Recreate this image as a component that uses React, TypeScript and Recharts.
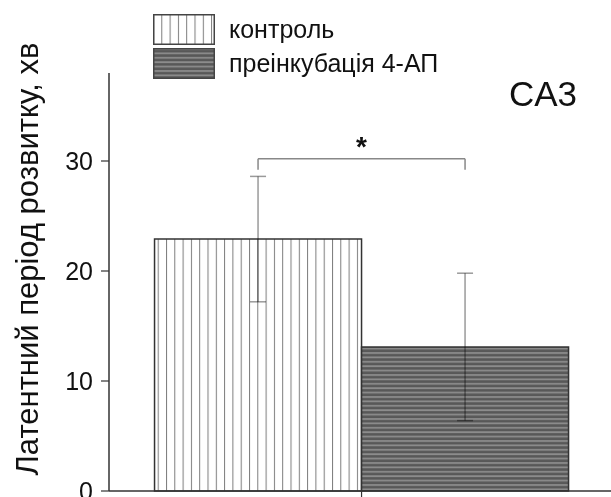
import { BarChart, Bar, Cell, XAxis, YAxis, ErrorBar, ReferenceLine, ReferenceDot } from "recharts";

const FONT = "Arial, 'Liberation Sans', sans-serif";

// groups and their position on the x axis
const categories = ["контроль", "преінкубація 4-АП"];
const positions = [1, 2];
// mean latency, min, and its error
const means = [22.9, 13.1];
const errors = [5.7, 6.7];
const yTicks = [0, 10, 20, 30];
const xTicks = [1.5];
// significance bracket between the two groups
const bracketTop = 30.2;
const bracketFoot = 29.2;
const starY = 31.4;

const fills = ["url(#vlines)", "url(#hlines)"];

const data = categories.map((name, i) => ({
  name,
  x: positions[i],
  value: means[i],
  err: errors[i],
}));

const Swatch = ({ fill }: { fill: string }) => (
  <svg width={62} height={31} style={{ display: "block" }}>
    <rect x={0.75} y={0.75} width={60.5} height={29.5} fill={fill} stroke="#444" strokeWidth={1.5} />
  </svg>
);

const App = () => {
  return (
    <div
      style={{
        position: "fixed",
        left: 0,
        top: 0,
        width: 611,
        height: 497,
        overflow: "hidden",
        background: "#fff",
        fontFamily: FONT,
      }}
    >
      {/* error bars darken over the hatched dark bar, stay light over white */}
      <style>{".recharts-errorBar line { mix-blend-mode: multiply; }"}</style>
      <BarChart width={611} height={497} data={data} margin={{ top: 73, right: 0, bottom: 0, left: 0 }}>
        <defs>
          <pattern id="vlines" patternUnits="userSpaceOnUse" width={8.3} height={10}>
            <rect x={0} y={0} width={8.3} height={10} fill="#fff" />
            <line x1={0.5} y1={0} x2={0.5} y2={10} stroke="#7c7c7c" strokeWidth={1} />
          </pattern>
          <pattern id="hlines" patternUnits="userSpaceOnUse" width={10} height={4.4}>
            <rect x={0} y={0} width={10} height={4.4} fill="#585858" />
            <line x1={0} y1={1} x2={10} y2={1} stroke="#8c8c8c" strokeWidth={1.8} />
          </pattern>
        </defs>
        <XAxis
          dataKey="x"
          type="number"
          domain={[0.28, 2.705]}
          allowDataOverflow
          ticks={xTicks}
          interval={0}
          tickFormatter={() => ""}
          tickSize={7}
          height={6}
          axisLine={{ stroke: "#333", strokeWidth: 1.5 }}
          tickLine={{ stroke: "#333", strokeWidth: 1.2 }}
        />
        <YAxis
          domain={[0, 38]}
          ticks={yTicks}
          interval={0}
          width={109}
          tickSize={8}
          tickMargin={8}
          axisLine={{ stroke: "#333", strokeWidth: 1.5 }}
          tickLine={{ stroke: "#333", strokeWidth: 1.2 }}
          tick={{ fill: "#111", fontSize: 25, fontFamily: FONT }}
          label={{
            content: () => (
              <text
                x={27}
                y={259}
                transform="rotate(-90, 27, 259)"
                textAnchor="middle"
                dominantBaseline="central"
                fontSize={31}
                fontFamily={FONT}
                fill="#111"
              >
                Латентний період розвитку, хв
              </text>
            ),
          }}
        />
        <Bar dataKey="value" barSize={207} stroke="#333" strokeWidth={1.5} isAnimationActive={false}>
          {data.map((d, i) => (
            <Cell key={d.name} fill={fills[i]} />
          ))}
          <ErrorBar dataKey="err" width={8} stroke="#9a9a9a" strokeWidth={1.5} direction="y" />
        </Bar>
        <ReferenceLine
          segment={[
            { x: positions[0], y: bracketFoot },
            { x: positions[0], y: bracketTop },
          ]}
          stroke="#888"
          strokeWidth={1.5}
        />
        <ReferenceLine
          segment={[
            { x: positions[0], y: bracketTop },
            { x: positions[1], y: bracketTop },
          ]}
          stroke="#888"
          strokeWidth={1.5}
        />
        <ReferenceLine
          segment={[
            { x: positions[1], y: bracketTop },
            { x: positions[1], y: bracketFoot },
          ]}
          stroke="#888"
          strokeWidth={1.5}
        />
        <ReferenceDot
          x={(positions[0] + positions[1]) / 2}
          y={starY}
          r={0}
          fill="none"
          stroke="none"
          label={{ value: "*", position: "center", fontSize: 28, fontWeight: "bold", fill: "#111", fontFamily: FONT }}
        />
      </BarChart>

      <div style={{ position: "absolute", left: 153, top: 14 }}>
        {categories.map((name, i) => (
          <div key={name} style={{ display: "flex", alignItems: "center", height: 31, marginBottom: 3 }}>
            <Swatch fill={fills[i]} />
            <span style={{ marginLeft: 14, fontSize: 25, color: "#111", lineHeight: "31px" }}>{name}</span>
          </div>
        ))}
      </div>
      <div style={{ position: "absolute", left: 509, top: 74, fontSize: 35, color: "#111" }}>CA3</div>
    </div>
  );
};

export default App;
